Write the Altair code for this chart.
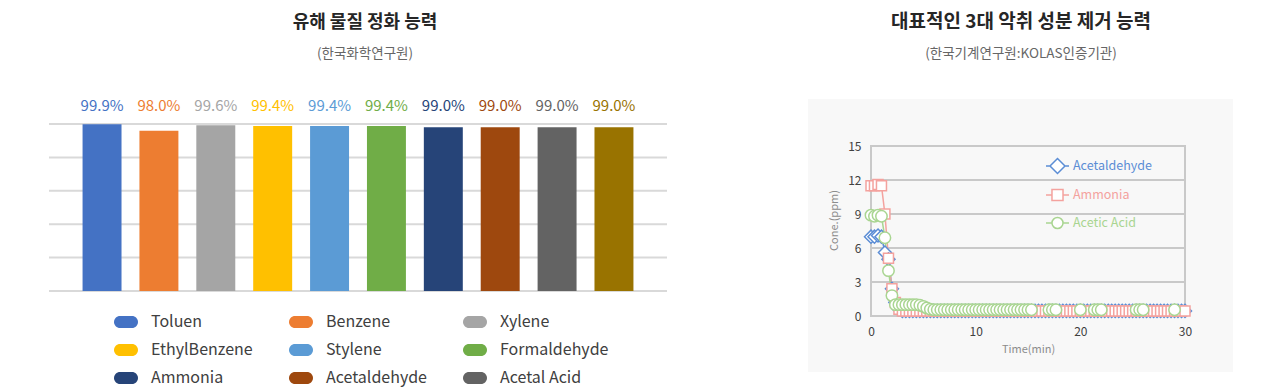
import altair as alt
import pandas as pd

FONT = "Noto Sans CJK KR"

# ---------------- left chart data ----------------
substances = ["Toluen", "Benzene", "Xylene", "EthylBenzene", "Stylene",
              "Formaldehyde", "Ammonia", "Acetaldehyde", "Acetal Acid", "TVOC"]
removal_pct = [99.9, 98.0, 99.6, 99.4, 99.4, 99.4, 99.0, 99.0, 99.0, 99.0]
removal_labels = ["99.9%", "98.0%", "99.6%", "99.4%", "99.4%",
                  "99.4%", "99.0%", "99.0%", "99.0%", "99.0%"]
bar_colors = ["#4472C4", "#ED7D31", "#A5A5A5", "#FFC000", "#5B9BD5",
              "#70AD47", "#264478", "#9E480E", "#636363", "#997300"]
bar_grid_values = [50, 60, 70, 80, 90, 100]

# ---------------- right chart data ----------------
series_names = ["Acetaldehyde", "Ammonia", "Acetic Acid"]
series_colors = ["#5b8dd5", "#f4a29e", "#a9d591"]
series_shapes = ["diamond", "square", "circle"]
series_sizes = [169, 100, 130]
time_min = [0, 0.33, 0.67, 1, 1.33, 1.67, 2, 2.33, 2.67, 3, 3.33, 3.67, 4, 4.33, 4.67,
            5, 5.33, 5.67, 6, 6.33, 6.67, 7, 7.33, 7.67, 8, 8.33, 8.67, 9, 9.33, 9.67,
            10, 10.33, 10.67, 11, 11.33, 11.67, 12, 12.33, 12.67, 13, 13.33, 13.67, 14, 14.33, 14.67,
            15, 15.33, 15.67, 16, 16.33, 16.67, 17, 17.33, 17.67, 18, 18.33, 18.67, 19, 19.33, 19.67,
            20, 20.33, 20.67, 21, 21.33, 21.67, 22, 22.33, 22.67, 23, 23.33, 23.67, 24, 24.33, 24.67,
            25, 25.33, 25.67, 26, 26.33, 26.67, 27, 27.33, 27.67, 28, 28.33, 28.67, 29, 29.33, 29.67,
            30]
acetaldehyde_ppm = [7.0, 7.0, 7.1, 7.0, 5.6, 5.0, 2.4, 1.2, 0.6, 0.45, 0.45, 0.45, 0.45, 0.45, 0.45,
                    0.45, 0.45, 0.45, 0.45, 0.45, 0.45, 0.45, 0.45, 0.45, 0.45, 0.45, 0.45, 0.45, 0.45, 0.45,
                    0.45, 0.45, 0.45, 0.45, 0.45, 0.45, 0.45, 0.45, 0.45, 0.45, 0.45, 0.45, 0.45, 0.45, 0.45,
                    0.45, 0.45, 0.45, 0.45, 0.45, 0.45, 0.45, 0.45, 0.45, 0.45, 0.45, 0.45, 0.45, 0.45, 0.45,
                    0.45, 0.45, 0.45, 0.45, 0.45, 0.45, 0.45, 0.45, 0.45, 0.45, 0.45, 0.45, 0.45, 0.45, 0.45,
                    0.45, 0.45, 0.45, 0.45, 0.45, 0.45, 0.45, 0.45, 0.45, 0.45, 0.45, 0.45, 0.45, 0.45, 0.45,
                    0.45]
ammonia_ppm = [11.5, 11.5, 11.6, 11.5, 9.0, 5.1, 2.4, 1.2, 0.6, 0.45, 0.45, 0.45, 0.45, 0.45, 0.45,
               0.45, 0.45, 0.45, 0.45, 0.45, 0.45, 0.45, 0.45, 0.45, 0.45, 0.45, 0.45, 0.45, 0.45, 0.45,
               0.45, 0.45, 0.45, 0.45, 0.45, 0.45, 0.45, 0.45, 0.45, 0.45, 0.45, 0.45, 0.45, 0.45, 0.45,
               0.45, 0.45, 0.45, 0.45, 0.45, 0.45, 0.45, 0.45, 0.45, 0.45, 0.45, 0.45, 0.45, 0.45, 0.45,
               0.45, 0.45, 0.45, 0.45, 0.45, 0.45, 0.45, 0.45, 0.45, 0.45, 0.45, 0.45, 0.45, 0.45, 0.45,
               0.45, 0.45, 0.45, 0.45, 0.45, 0.45, 0.45, 0.45, 0.45, 0.45, 0.45, 0.45, 0.45, 0.45, 0.45,
               0.45]
acetic_time_min = [0, 0.33, 0.67, 1, 1.33, 1.67, 2, 2.33, 2.67, 3, 3.33, 3.67, 4, 4.33, 4.67,
                   5, 5.33, 5.67, 6, 6.33, 6.67, 7, 7.33, 7.67, 8, 8.33, 8.67, 9, 9.33, 9.67,
                   10, 10.33, 10.67, 11, 11.33, 11.67, 12, 12.33, 12.67, 13, 13.33, 13.67, 14, 14.33, 14.67,
                   15, 15.33, 17, 17.33, 17.67, 20, 21.33, 21.67, 22, 25.33, 25.67, 26, 29]
acetic_ppm = [8.9, 8.8, 8.9, 8.8, 6.9, 4.0, 1.8, 1.0, 1.0, 1.0, 1.0, 1.0, 1.0, 1.0, 0.95,
              0.85, 0.7, 0.6, 0.55, 0.55, 0.55, 0.55, 0.55, 0.55, 0.55, 0.55, 0.55, 0.55, 0.55, 0.55,
              0.55, 0.55, 0.55, 0.55, 0.55, 0.55, 0.55, 0.55, 0.55, 0.55, 0.55, 0.55, 0.55, 0.55, 0.55,
              0.55, 0.55, 0.55, 0.55, 0.55, 0.55, 0.55, 0.55, 0.55, 0.55, 0.55, 0.55, 0.55]
y_ticks = [0, 3, 6, 9, 12, 15]
y_grid = [3, 6, 9, 12]
y_frame = [15, 0]
x_ticks = [0, 10, 20, 30]

# ---------------- left chart ----------------
bar_df = pd.DataFrame({"substance": substances, "removal": removal_pct, "label": removal_labels})

PILL = "M-0.5,-0.5L0.5,-0.5A0.5,0.5,0,0,1,0.5,0.5L-0.5,0.5A0.5,0.5,0,0,1,-0.5,-0.5Z"

bar_legend = alt.Legend(
    title=None, orient="none", legendX=65, legendY=186, columns=3, direction="horizontal",
    symbolType=PILL, symbolSize=576, symbolStrokeWidth=0, symbolOpacity=1,
    labelFont=FONT, labelFontSize=16, labelColor="#404040", labelOffset=13,
    columnPadding=36, rowPadding=8, gridAlign="each", padding=0,
)
bar_color = alt.Color("substance:N", sort=substances,
                      scale=alt.Scale(domain=substances, range=bar_colors), legend=bar_legend)
x_bar = alt.X("substance:N", sort=substances, axis=None,
              scale=alt.Scale(paddingInner=0.315, paddingOuter=0.59))
y_scale_bar = alt.Scale(domain=[50, 100], zero=False, nice=False)
y_bar = alt.Y("removal:Q", scale=y_scale_bar, axis=None)

bar_grid = alt.Chart(pd.DataFrame({"g": bar_grid_values})).mark_rule(
    color="#d9d9d9", strokeWidth=2).encode(y=alt.Y("g:Q", scale=y_scale_bar, axis=None))
bars = alt.Chart(bar_df).mark_bar().encode(x=x_bar, y=y_bar, y2=alt.datum(50), color=bar_color)
bar_text = alt.Chart(bar_df).mark_text(dy=-18, fontSize=15, font=FONT).encode(
    x=x_bar, y=alt.datum(100), text="label:N", color=bar_color)

left = alt.layer(bar_grid, bars, bar_text).properties(
    width=618, height=167,
    title=alt.Title("유해 물질 정화 능력", subtitle="(한국화학연구원)", anchor="middle",
                    font=FONT, fontSize=18, fontWeight="bold", color="#262626",
                    subtitleFont=FONT, subtitleFontSize=13.5, subtitleColor="#666666",
                    subtitlePadding=15, offset=39, dx=7),
)

# ---------------- right chart ----------------
rows = []
for name, times, vals in [("Acetaldehyde", time_min, acetaldehyde_ppm),
                          ("Ammonia", time_min, ammonia_ppm),
                          ("Acetic Acid", acetic_time_min, acetic_ppm)]:
    for t, v in zip(times, vals):
        rows.append({"series": name, "time": t, "ppm": v})
line_df = pd.DataFrame(rows)

P_DIA = "M-1,0L-0.65,0M0.65,0L1,0M-0.65,0L0,-0.65L0.65,0L0,0.65Z"
P_SQ = "M-1,0L-0.48,0M0.48,0L1,0M-0.48,-0.48L0.48,-0.48L0.48,0.48L-0.48,0.48Z"
P_CI = "M-1,0L-0.48,0M0.48,0L1,0M-0.48,0A0.48,0.48,0,1,1,0.48,0A0.48,0.48,0,1,1,-0.48,0Z"

shape_sig = ("datum.value === 'Acetaldehyde' ? '%s' : datum.value === 'Ammonia' ? '%s' : '%s'"
             % (P_DIA, P_SQ, P_CI))
label_sig = ("datum.value === 'Acetaldehyde' ? '%s' : datum.value === 'Ammonia' ? '%s' : '%s'"
             % tuple(series_colors))

# the right plot is 22px taller than its framed area so that its frame sits lower than the bar plot
Y_TOP = 15 * 192 / 170

line_legend = alt.Legend(
    title=None, orient="none", legendX=174, legendY=29.5,
    symbolType=alt.ExprRef(expr=shape_sig), symbolSize=529, symbolStrokeWidth=1.5,
    symbolFillColor="#ffffff", symbolOpacity=1,
    labelFont=FONT, labelFontSize=12.5, labelOffset=3, rowPadding=6, padding=0,
    labelColor=alt.ExprRef(expr=label_sig),
)
color_r = alt.Color("series:N", sort=series_names,
                    scale=alt.Scale(domain=series_names, range=series_colors), legend=line_legend)

x_axis_r = alt.Axis(values=x_ticks, title="Time(min)", grid=False, ticks=False, domain=False,
                    labelFont=FONT, labelFontSize=12, labelColor="#404040", labelPadding=10,
                    labelFlush=False, titleFont=FONT, titleFontSize=11, titleFontWeight="normal",
                    titleColor="#8c8c8c", titlePadding=6, zindex=1)
y_axis_r = alt.Axis(values=y_ticks, title="Cone.(ppm)", grid=False, ticks=False, domain=False,
                    labelFont=FONT, labelFontSize=12, labelColor="#404040", labelPadding=10,
                    titleFont=FONT, titleFontSize=11, titleFontWeight="normal",
                    titleColor="#8c8c8c", titlePadding=8, zindex=1)
y_scale_r = alt.Scale(domain=[0, Y_TOP], nice=False)
x_r = alt.X("time:Q", scale=alt.Scale(domain=[0, 30], nice=False), axis=x_axis_r)
y_r = alt.Y("ppm:Q", scale=y_scale_r, axis=y_axis_r)

one_row = pd.DataFrame({"k": [0]})
panel_bg = alt.Chart(one_row).mark_rect(fill="#f8f8f8").encode(
    x=alt.value(-63), x2=alt.value(362), y=alt.value(-25), y2=alt.value(248))
grid_rules = alt.Chart(pd.DataFrame({"tick": y_grid})).mark_rule(color="#c9c9c9", strokeWidth=2).encode(
    y=alt.Y("tick:Q", scale=y_scale_r, axis=y_axis_r))
frame = alt.Chart(pd.DataFrame({"top": [y_frame[0]], "bottom": [y_frame[1]]})).mark_rect(
    fill="transparent", stroke="#c9c9c9", strokeWidth=2).encode(
    x=alt.value(0), x2=alt.value("width"), y=alt.Y("top:Q", scale=y_scale_r, axis=y_axis_r), y2="bottom:Q")
lines = alt.Chart(line_df).mark_line(strokeWidth=1.5).encode(x=x_r, y=y_r, color=color_r)

point_layers = []
for name, shp, sz in zip(series_names, series_shapes, series_sizes):
    point_layers.append(
        alt.Chart(line_df).transform_filter(alt.datum.series == name).mark_point(
            shape=shp, size=sz, filled=False, fill="#ffffff", strokeWidth=1.5, opacity=1
        ).encode(x=x_r, y=y_r, color=color_r)
    )

right = alt.layer(panel_bg, grid_rules, frame, lines, *point_layers).properties(
    width=314, height=192,
    title=alt.Title("대표적인 3대 악취 성분 제거 능력", subtitle="(한국기계연구원:KOLAS인증기관)", anchor="middle",
                    font=FONT, fontSize=19, fontWeight="bold", color="#262626",
                    subtitleFont=FONT, subtitleFontSize=13.5, subtitleColor="#666666",
                    subtitlePadding=15, offset=39, dx=-7),
)

chart = alt.hconcat(left, right, spacing=140).resolve_scale(
    x="independent", y="independent", color="independent"
).resolve_axis(x="independent", y="independent").resolve_legend(
    color="independent"
).properties(
    padding={"left": 40, "top": 4, "right": 0, "bottom": 0}
).configure(font=FONT).configure_view(strokeWidth=0)

chart.save("out.html", embed_options={"renderer": "svg", "actions": False})
